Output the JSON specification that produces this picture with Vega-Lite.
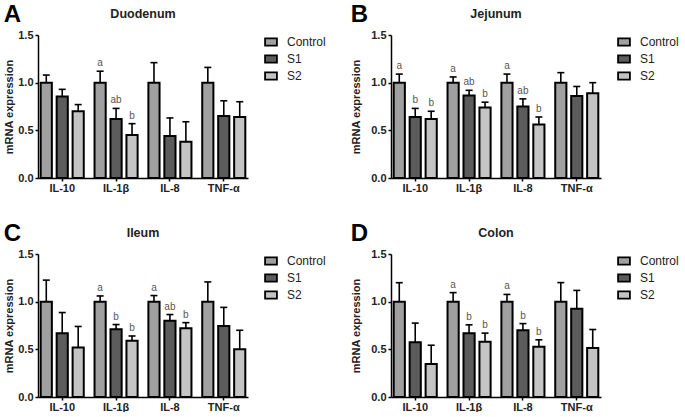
{
  "$schema": "https://vega.github.io/schema/vega-lite/v6.json",
  "padding": {"left": 3, "top": 2, "right": 0, "bottom": 0},
  "spacing": 28,
  "config": {
    "font": "Liberation Sans",
    "view": {"stroke": null},
    "axis": {"domainColor": "black", "domainWidth": 1.5, "tickColor": "black", "tickWidth": 1.5, "tickSize": 3, "labelFontWeight": "bold", "labelFontSize": 11, "labelColor": "#222", "titleFontWeight": "bold", "titleFontSize": 11, "titleColor": "#222", "grid": false},
    "legend": {"labelFontSize": 12, "labelColor": "#222", "symbolStrokeColor": "black", "symbolStrokeWidth": 1.8, "symbolType": "M-1,-0.62H1V0.62H-1Z", "symbolSize": 140, "rowPadding": 1, "labelOffset": 9, "offset": 16, "padding": 0},
    "title": {"fontSize": 12.5, "fontWeight": "bold", "color": "#222"},
    "concat": {"spacing": 0}
  },
  "data": {"values": [
    {"p": "Duodenum", "g": "IL-10", "s": "Control", "m": 1.0, "e": 1.08, "t": ""},
    {"p": "Duodenum", "g": "IL-10", "s": "S1", "m": 0.855, "e": 0.93, "t": ""},
    {"p": "Duodenum", "g": "IL-10", "s": "S2", "m": 0.70, "e": 0.77, "t": ""},
    {"p": "Duodenum", "g": "IL-1β", "s": "Control", "m": 1.0, "e": 1.12, "t": "a"},
    {"p": "Duodenum", "g": "IL-1β", "s": "S1", "m": 0.62, "e": 0.73, "t": "ab"},
    {"p": "Duodenum", "g": "IL-1β", "s": "S2", "m": 0.45, "e": 0.57, "t": "b"},
    {"p": "Duodenum", "g": "IL-8", "s": "Control", "m": 1.0, "e": 1.21, "t": ""},
    {"p": "Duodenum", "g": "IL-8", "s": "S1", "m": 0.44, "e": 0.63, "t": ""},
    {"p": "Duodenum", "g": "IL-8", "s": "S2", "m": 0.38, "e": 0.59, "t": ""},
    {"p": "Duodenum", "g": "TNF-α", "s": "Control", "m": 1.0, "e": 1.16, "t": ""},
    {"p": "Duodenum", "g": "TNF-α", "s": "S1", "m": 0.65, "e": 0.81, "t": ""},
    {"p": "Duodenum", "g": "TNF-α", "s": "S2", "m": 0.64, "e": 0.80, "t": ""},
    {"p": "Jejunum", "g": "IL-10", "s": "Control", "m": 1.0, "e": 1.09, "t": "a"},
    {"p": "Jejunum", "g": "IL-10", "s": "S1", "m": 0.64, "e": 0.73, "t": "b"},
    {"p": "Jejunum", "g": "IL-10", "s": "S2", "m": 0.62, "e": 0.70, "t": "b"},
    {"p": "Jejunum", "g": "IL-1β", "s": "Control", "m": 1.0, "e": 1.06, "t": "a"},
    {"p": "Jejunum", "g": "IL-1β", "s": "S1", "m": 0.865, "e": 0.92, "t": "ab"},
    {"p": "Jejunum", "g": "IL-1β", "s": "S2", "m": 0.74, "e": 0.795, "t": "b"},
    {"p": "Jejunum", "g": "IL-8", "s": "Control", "m": 1.0, "e": 1.09, "t": "a"},
    {"p": "Jejunum", "g": "IL-8", "s": "S1", "m": 0.75, "e": 0.83, "t": "ab"},
    {"p": "Jejunum", "g": "IL-8", "s": "S2", "m": 0.56, "e": 0.64, "t": "b"},
    {"p": "Jejunum", "g": "TNF-α", "s": "Control", "m": 1.0, "e": 1.105, "t": ""},
    {"p": "Jejunum", "g": "TNF-α", "s": "S1", "m": 0.86, "e": 0.96, "t": ""},
    {"p": "Jejunum", "g": "TNF-α", "s": "S2", "m": 0.89, "e": 1.0, "t": ""},
    {"p": "Ileum", "g": "IL-10", "s": "Control", "m": 1.0, "e": 1.226, "t": ""},
    {"p": "Ileum", "g": "IL-10", "s": "S1", "m": 0.67, "e": 0.886, "t": ""},
    {"p": "Ileum", "g": "IL-10", "s": "S2", "m": 0.52, "e": 0.74, "t": ""},
    {"p": "Ileum", "g": "IL-1β", "s": "Control", "m": 1.0, "e": 1.06, "t": "a"},
    {"p": "Ileum", "g": "IL-1β", "s": "S1", "m": 0.71, "e": 0.76, "t": "b"},
    {"p": "Ileum", "g": "IL-1β", "s": "S2", "m": 0.59, "e": 0.64, "t": "b"},
    {"p": "Ileum", "g": "IL-8", "s": "Control", "m": 1.0, "e": 1.064, "t": "a"},
    {"p": "Ileum", "g": "IL-8", "s": "S1", "m": 0.80, "e": 0.865, "t": "ab"},
    {"p": "Ileum", "g": "IL-8", "s": "S2", "m": 0.72, "e": 0.78, "t": "b"},
    {"p": "Ileum", "g": "TNF-α", "s": "Control", "m": 1.0, "e": 1.207, "t": ""},
    {"p": "Ileum", "g": "TNF-α", "s": "S1", "m": 0.746, "e": 0.94, "t": ""},
    {"p": "Ileum", "g": "TNF-α", "s": "S2", "m": 0.50, "e": 0.70, "t": ""},
    {"p": "Colon", "g": "IL-10", "s": "Control", "m": 1.0, "e": 1.199, "t": ""},
    {"p": "Colon", "g": "IL-10", "s": "S1", "m": 0.575, "e": 0.775, "t": ""},
    {"p": "Colon", "g": "IL-10", "s": "S2", "m": 0.347, "e": 0.543, "t": ""},
    {"p": "Colon", "g": "IL-1β", "s": "Control", "m": 1.0, "e": 1.095, "t": "a"},
    {"p": "Colon", "g": "IL-1β", "s": "S1", "m": 0.67, "e": 0.757, "t": "b"},
    {"p": "Colon", "g": "IL-1β", "s": "S2", "m": 0.58, "e": 0.67, "t": "b"},
    {"p": "Colon", "g": "IL-8", "s": "Control", "m": 1.0, "e": 1.076, "t": "a"},
    {"p": "Colon", "g": "IL-8", "s": "S1", "m": 0.70, "e": 0.77, "t": "b"},
    {"p": "Colon", "g": "IL-8", "s": "S2", "m": 0.526, "e": 0.60, "t": "b"},
    {"p": "Colon", "g": "TNF-α", "s": "Control", "m": 1.0, "e": 1.2, "t": ""},
    {"p": "Colon", "g": "TNF-α", "s": "S1", "m": 0.925, "e": 1.118, "t": ""},
    {"p": "Colon", "g": "TNF-α", "s": "S2", "m": 0.515, "e": 0.708, "t": ""}
  ]},
  "resolve": {"scale": {"fill": "independent"}, "legend": {"fill": "independent"}},
  "vconcat": [
    {"spacing": 24, "hconcat": [
      {"title": {"text": "A", "anchor": "start", "frame": "bounds", "fontSize": 24, "fontWeight": "bold", "color": "black", "offset": -19},
       "resolve": {"scale": {"fill": "independent"}, "legend": {"fill": "independent"}},
       "vconcat": [{
        "title": {"text": "Duodenum", "offset": 9},
        "width": 210, "height": 143,
        "transform": [{"filter": "datum.p === 'Duodenum'"}],
        "encoding": {
          "x": {"field": "g", "type": "nominal", "sort": ["IL-10", "IL-1β", "IL-8", "TNF-α"], "scale": {"paddingInner": 0.2, "paddingOuter": 0.05}, "axis": {"title": null, "labelAngle": 0, "labelPadding": 1}},
          "xOffset": {"field": "s", "type": "nominal", "sort": ["Control", "S1", "S2"], "scale": {"paddingInner": 0.3}}
        },
        "layer": [
          {"mark": {"type": "bar", "stroke": "black", "strokeWidth": 2},
           "encoding": {
             "y": {"field": "m", "type": "quantitative", "scale": {"domain": [0, 1.5], "nice": false}, "axis": {"values": [0, 0.5, 1, 1.5], "format": ".1f", "title": "mRNA expression", "titlePadding": 3}},
             "fill": {"field": "s", "type": "nominal", "sort": ["Control", "S1", "S2"], "scale": {"range": ["#a0a0a0", "#5c5c5c", "#c4c4c4"]}, "legend": {"title": null}}
           }},
          {"mark": {"type": "rule", "strokeWidth": 1.6, "color": "black"}, "encoding": {"y": {"field": "m", "type": "quantitative"}, "y2": {"field": "e"}}},
          {"mark": {"type": "tick", "thickness": 1.6, "size": 7, "color": "black", "opacity": 1}, "encoding": {"y": {"field": "e", "type": "quantitative"}}},
          {"transform": [{"filter": "datum.t !== ''"}], "mark": {"type": "text", "baseline": "bottom", "dy": -3, "fontSize": 10, "fill": "#555"}, "encoding": {"y": {"field": "e", "type": "quantitative"}, "text": {"field": "t"}}}
        ]
      }]},
      {"title": {"text": "B", "anchor": "start", "frame": "bounds", "fontSize": 24, "fontWeight": "bold", "color": "black", "offset": -19},
       "resolve": {"scale": {"fill": "independent"}, "legend": {"fill": "independent"}},
       "vconcat": [{
        "title": {"text": "Jejunum", "offset": 9},
        "width": 210, "height": 143,
        "transform": [{"filter": "datum.p === 'Jejunum'"}],
        "encoding": {
          "x": {"field": "g", "type": "nominal", "sort": ["IL-10", "IL-1β", "IL-8", "TNF-α"], "scale": {"paddingInner": 0.2, "paddingOuter": 0.05}, "axis": {"title": null, "labelAngle": 0, "labelPadding": 1}},
          "xOffset": {"field": "s", "type": "nominal", "sort": ["Control", "S1", "S2"], "scale": {"paddingInner": 0.3}}
        },
        "layer": [
          {"mark": {"type": "bar", "stroke": "black", "strokeWidth": 2},
           "encoding": {
             "y": {"field": "m", "type": "quantitative", "scale": {"domain": [0, 1.5], "nice": false}, "axis": {"values": [0, 0.5, 1, 1.5], "format": ".1f", "title": "mRNA expression", "titlePadding": 9}},
             "fill": {"field": "s", "type": "nominal", "sort": ["Control", "S1", "S2"], "scale": {"range": ["#a0a0a0", "#5c5c5c", "#c4c4c4"]}, "legend": {"title": null}}
           }},
          {"mark": {"type": "rule", "strokeWidth": 1.6, "color": "black"}, "encoding": {"y": {"field": "m", "type": "quantitative"}, "y2": {"field": "e"}}},
          {"mark": {"type": "tick", "thickness": 1.6, "size": 7, "color": "black", "opacity": 1}, "encoding": {"y": {"field": "e", "type": "quantitative"}}},
          {"transform": [{"filter": "datum.t !== ''"}], "mark": {"type": "text", "baseline": "bottom", "dy": -3, "fontSize": 10, "fill": "#555"}, "encoding": {"y": {"field": "e", "type": "quantitative"}, "text": {"field": "t"}}}
        ]
      }]}
    ]},
    {"spacing": 24, "hconcat": [
      {"title": {"text": "C", "anchor": "start", "frame": "bounds", "fontSize": 24, "fontWeight": "bold", "color": "black", "offset": -19},
       "resolve": {"scale": {"fill": "independent"}, "legend": {"fill": "independent"}},
       "vconcat": [{
        "title": {"text": "Ileum", "offset": 9},
        "width": 210, "height": 143,
        "transform": [{"filter": "datum.p === 'Ileum'"}],
        "encoding": {
          "x": {"field": "g", "type": "nominal", "sort": ["IL-10", "IL-1β", "IL-8", "TNF-α"], "scale": {"paddingInner": 0.2, "paddingOuter": 0.05}, "axis": {"title": null, "labelAngle": 0, "labelPadding": 1}},
          "xOffset": {"field": "s", "type": "nominal", "sort": ["Control", "S1", "S2"], "scale": {"paddingInner": 0.3}}
        },
        "layer": [
          {"mark": {"type": "bar", "stroke": "black", "strokeWidth": 2},
           "encoding": {
             "y": {"field": "m", "type": "quantitative", "scale": {"domain": [0, 1.5], "nice": false}, "axis": {"values": [0, 0.5, 1, 1.5], "format": ".1f", "title": "mRNA expression", "titlePadding": 3}},
             "fill": {"field": "s", "type": "nominal", "sort": ["Control", "S1", "S2"], "scale": {"range": ["#a0a0a0", "#5c5c5c", "#c4c4c4"]}, "legend": {"title": null}}
           }},
          {"mark": {"type": "rule", "strokeWidth": 1.6, "color": "black"}, "encoding": {"y": {"field": "m", "type": "quantitative"}, "y2": {"field": "e"}}},
          {"mark": {"type": "tick", "thickness": 1.6, "size": 7, "color": "black", "opacity": 1}, "encoding": {"y": {"field": "e", "type": "quantitative"}}},
          {"transform": [{"filter": "datum.t !== ''"}], "mark": {"type": "text", "baseline": "bottom", "dy": -3, "fontSize": 10, "fill": "#555"}, "encoding": {"y": {"field": "e", "type": "quantitative"}, "text": {"field": "t"}}}
        ]
      }]},
      {"title": {"text": "D", "anchor": "start", "frame": "bounds", "fontSize": 24, "fontWeight": "bold", "color": "black", "offset": -19},
       "resolve": {"scale": {"fill": "independent"}, "legend": {"fill": "independent"}},
       "vconcat": [{
        "title": {"text": "Colon", "offset": 9},
        "width": 210, "height": 143,
        "transform": [{"filter": "datum.p === 'Colon'"}],
        "encoding": {
          "x": {"field": "g", "type": "nominal", "sort": ["IL-10", "IL-1β", "IL-8", "TNF-α"], "scale": {"paddingInner": 0.2, "paddingOuter": 0.05}, "axis": {"title": null, "labelAngle": 0, "labelPadding": 1}},
          "xOffset": {"field": "s", "type": "nominal", "sort": ["Control", "S1", "S2"], "scale": {"paddingInner": 0.3}}
        },
        "layer": [
          {"mark": {"type": "bar", "stroke": "black", "strokeWidth": 2},
           "encoding": {
             "y": {"field": "m", "type": "quantitative", "scale": {"domain": [0, 1.5], "nice": false}, "axis": {"values": [0, 0.5, 1, 1.5], "format": ".1f", "title": "mRNA expression", "titlePadding": 9}},
             "fill": {"field": "s", "type": "nominal", "sort": ["Control", "S1", "S2"], "scale": {"range": ["#a0a0a0", "#5c5c5c", "#c4c4c4"]}, "legend": {"title": null}}
           }},
          {"mark": {"type": "rule", "strokeWidth": 1.6, "color": "black"}, "encoding": {"y": {"field": "m", "type": "quantitative"}, "y2": {"field": "e"}}},
          {"mark": {"type": "tick", "thickness": 1.6, "size": 7, "color": "black", "opacity": 1}, "encoding": {"y": {"field": "e", "type": "quantitative"}}},
          {"transform": [{"filter": "datum.t !== ''"}], "mark": {"type": "text", "baseline": "bottom", "dy": -3, "fontSize": 10, "fill": "#555"}, "encoding": {"y": {"field": "e", "type": "quantitative"}, "text": {"field": "t"}}}
        ]
      }]}
    ]}
  ]
}
